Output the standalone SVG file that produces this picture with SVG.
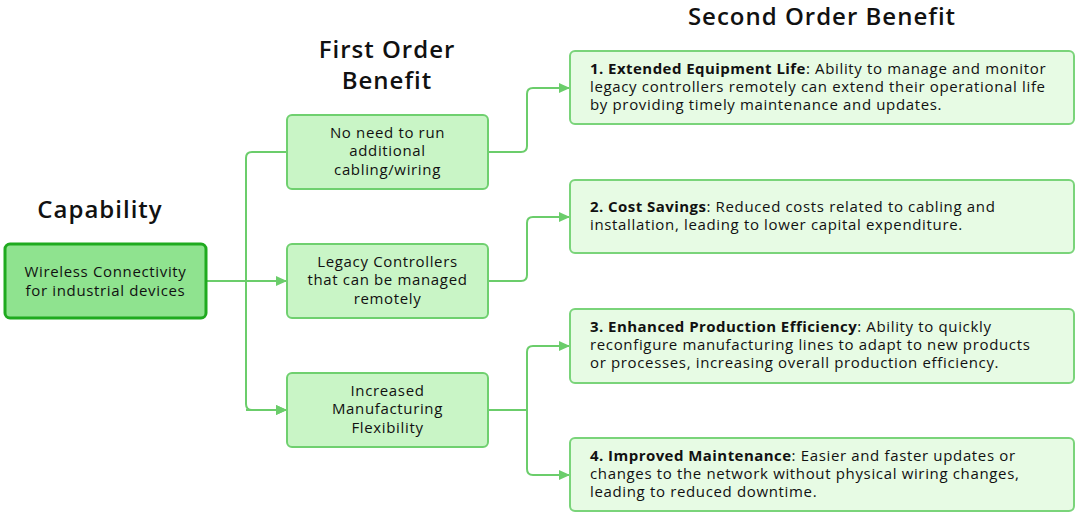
<svg xmlns="http://www.w3.org/2000/svg" width="1080" height="515" viewBox="0 0 1080 515">
<defs>
<marker id="arr" markerWidth="11" markerHeight="11" refX="10" refY="5.5" orient="auto" markerUnits="userSpaceOnUse">
<path d="M0,0.5 L11,5.5 L0,10.5 Z" fill="#6bcd6b"/>
</marker>
<style>
.h{font-family:"Open Sans","Liberation Sans",sans-serif;font-size:24px;font-weight:600;fill:#111;text-anchor:middle;letter-spacing:1px}
.t{font-family:"Open Sans","Liberation Sans",sans-serif;font-size:15px;fill:#111;letter-spacing:0.65px}
.c{text-anchor:middle}
.b{font-weight:700;letter-spacing:0.45px}
.cap{fill:#8fe38f;stroke:#1faa1f;stroke-width:3}
.f1{fill:#c9f5c6;stroke:#6fd06f;stroke-width:2}
.f2{fill:#e7fbe4;stroke:#7ad47a;stroke-width:2}
.con{fill:none;stroke:#6bcd6b;stroke-width:2}
</style>
</defs>
<rect width="1080" height="515" fill="#fff"/>
<g id="headings">
<text class="h" x="100" y="218">Capability</text>
<text class="h" x="387" y="58">First Order</text>
<text class="h" x="387" y="89">Benefit</text>
<text class="h" x="822" y="25">Second Order Benefit</text>
</g>
<g id="connectors">
<path class="con" d="M206,281 H286" marker-end="url(#arr)"/>
<path class="con" d="M286,152 H252 Q246,152 246,158 V404 Q246,410 252,410 H286" marker-end="url(#arr)"/>
<path class="con" d="M246,410 H286" marker-end="url(#arr)"/>
<path class="con" d="M488,152 H521 Q527,152 527,146 V94 Q527,88 533,88 H569" marker-end="url(#arr)"/>
<path class="con" d="M488,281 H521 Q527,281 527,275 V223 Q527,217 533,217 H569" marker-end="url(#arr)"/>
<path class="con" d="M488,410 H527 V352 Q527,346 533,346 H569" marker-end="url(#arr)"/>
<path class="con" d="M527,410 V469 Q527,475 533,475 H569" marker-end="url(#arr)"/>
</g>
<g id="cap">
<rect class="cap" x="5" y="244" width="201" height="74" rx="5"/>
<text class="t c" x="105.5" y="277">Wireless Connectivity</text>
<text class="t c" x="105.5" y="296">for industrial devices</text>
</g>
<g id="f1">
<rect class="f1" x="287" y="115" width="201" height="74" rx="5"/>
<text class="t c" x="387.5" y="138">No need to run</text>
<text class="t c" x="387.5" y="156">additional</text>
<text class="t c" x="387.5" y="175">cabling/wiring</text>
</g>
<g id="f2">
<rect class="f1" x="287" y="244" width="201" height="74" rx="5"/>
<text class="t c" x="387.5" y="267">Legacy Controllers</text>
<text class="t c" x="387.5" y="285">that can be managed</text>
<text class="t c" x="387.5" y="304">remotely</text>
</g>
<g id="f3">
<rect class="f1" x="287" y="373" width="201" height="74" rx="5"/>
<text class="t c" x="387.5" y="396">Increased</text>
<text class="t c" x="387.5" y="414">Manufacturing</text>
<text class="t c" x="387.5" y="433">Flexibility</text>
</g>
<g id="s1">
<rect class="f2" x="570" y="51" width="504" height="73" rx="5"/>
<text class="t" x="590" y="74"><tspan class="b">1. Extended Equipment Life</tspan>: Ability to manage and monitor</text>
<text class="t" x="590" y="92">legacy controllers remotely can extend their operational life</text>
<text class="t" x="590" y="110">by providing timely maintenance and updates.</text>
</g>
<g id="s2">
<rect class="f2" x="570" y="180" width="504" height="73" rx="5"/>
<text class="t" x="590" y="212"><tspan class="b">2. Cost Savings</tspan>: Reduced costs related to cabling and</text>
<text class="t" x="590" y="230">installation, leading to lower capital expenditure.</text>
</g>
<g id="s3">
<rect class="f2" x="570" y="309" width="504" height="74" rx="5"/>
<text class="t" x="590" y="332"><tspan class="b">3. Enhanced Production Efficiency</tspan>: Ability to quickly</text>
<text class="t" x="590" y="350">reconfigure manufacturing lines to adapt to new products</text>
<text class="t" x="590" y="368">or processes, increasing overall production efficiency.</text>
</g>
<g id="s4">
<rect class="f2" x="570" y="438" width="504" height="73" rx="5"/>
<text class="t" x="590" y="461"><tspan class="b">4. Improved Maintenance</tspan>: Easier and faster updates or</text>
<text class="t" x="590" y="479">changes to the network without physical wiring changes,</text>
<text class="t" x="590" y="497">leading to reduced downtime.</text>
</g>
</svg>
